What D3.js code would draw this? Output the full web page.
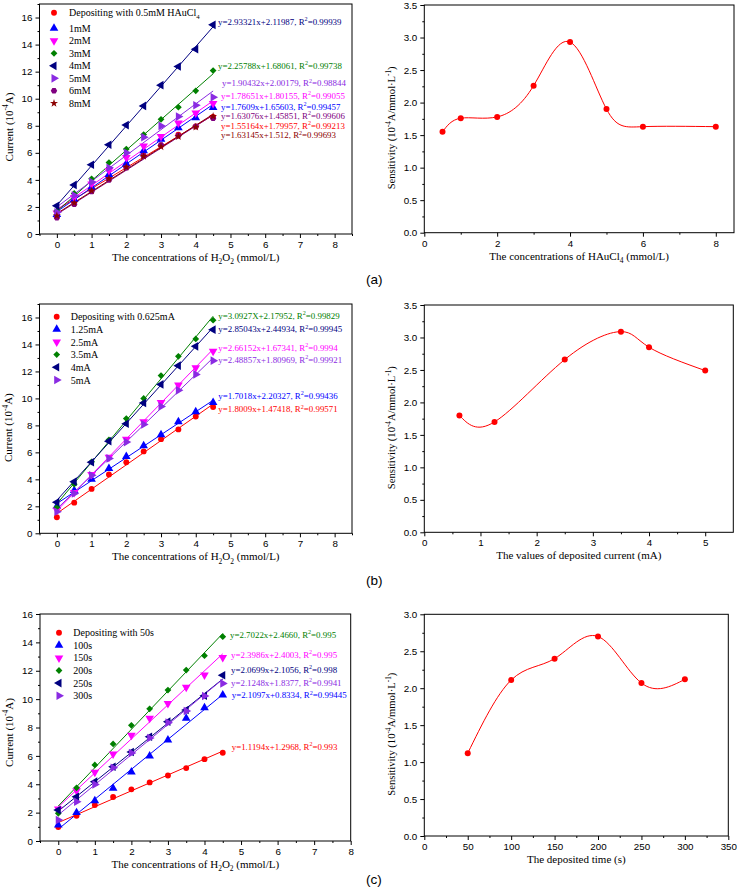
<!DOCTYPE html>
<html><head><meta charset="utf-8">
<script src="https://cdn.jsdelivr.net/npm/d3@7"></script>
<style>body{margin:0;background:#fff}</style>
</head><body>
<svg id="c" width="737" height="891" xmlns="http://www.w3.org/2000/svg"></svg>
<script>
// ================= DATA =================
const h2o2 = [0, 0.5, 1, 1.5, 2, 2.5, 3, 3.5, 4, 4.5];
const h2o2Ticks = [0, 1, 2, 3, 4, 5, 6, 7, 8];
const currentTicksAB = [0, 2, 4, 6, 8, 10, 12, 14, 16];
const currentTicksC = [0, 2, 4, 6, 8, 10, 12, 14, 16];

// (a) deposition with different HAuCl4 concentrations
const aNames = ["Depositing with 0.5mM HAuCl_{4}", "1mM", "2mM", "3mM", "4mM", "5mM", "6mM", "8mM"];
const a05mM = [1.30, 2.35, 3.30, 4.15, 5.00, 5.80, 6.55, 7.35, 7.95, 8.65];
const a1mM  = [1.45, 2.55, 3.45, 4.40, 5.20, 6.15, 7.00, 7.85, 8.60, 9.35];
const a2mM  = [1.55, 2.70, 3.70, 4.70, 5.65, 6.50, 7.20, 8.20, 8.95, 9.65];
const a3mM  = [1.70, 3.00, 4.08, 5.28, 6.28, 7.35, 8.48, 9.37, 10.58, 12.08];
const a4mM  = [2.08, 3.63, 5.12, 6.60, 8.05, 9.47, 11.00, 12.38, 13.66, 15.46];
const a5mM  = [1.60, 2.85, 3.85, 4.90, 6.00, 7.15, 7.99, 8.68, 9.52, 10.11];
const a6mM  = [1.20, 2.20, 3.15, 4.00, 4.90, 5.75, 6.58, 7.27, 7.94, 8.56];
const a8mM  = [1.35, 2.30, 3.20, 4.10, 4.95, 5.75, 6.45, 7.20, 7.90, 8.70];
const aSlopes = [1.55164, 1.7609, 1.78651, 2.25788, 2.93321, 1.90432, 1.63076, 1.63145];
const aIntercepts = [1.79957, 1.65603, 1.80155, 1.68061, 2.11987, 2.00179, 1.45851, 1.512];
const aEquations = [
  "y=1.55164x+1.79957, R^{2}=0.99213",
  "y=1.7609x+1.65603, R^{2}=0.99457",
  "y=1.78651x+1.80155, R^{2}=0.99055",
  "y=2.25788x+1.68061, R^{2}=0.99738",
  "y=2.93321x+2.11987, R^{2}=0.99939",
  "y=1.90432x+2.00179, R^{2}=0.98844",
  "y=1.63076x+1.45851, R^{2}=0.99606",
  "y=1.63145x+1.512, R^{2}=0.99693"
];
const aHAuCl4 = [0.5, 1, 2, 3, 4, 5, 6, 8];
const aSensitivity = [1.55, 1.76, 1.78, 2.26, 2.93, 1.90, 1.63, 1.63];
const aSensXTicks = [0, 2, 4, 6, 8];
const sensTicks35 = [0, 0.5, 1, 1.5, 2, 2.5, 3, 3.5];

// (b) deposition with different currents
const bNames = ["Depositing with 0.625mA", "1.25mA", "2.5mA", "3.5mA", "4mA", "5mA"];
const b0625mA = [1.19, 2.27, 3.29, 4.36, 5.27, 6.07, 6.98, 7.70, 8.66, 9.36];
const b125mA  = [2.00, 3.17, 4.01, 4.80, 5.70, 6.49, 7.30, 8.27, 9.01, 9.70];
const b25mA   = [1.73, 3.02, 4.36, 5.64, 6.98, 8.27, 9.70, 11.00, 12.28, 13.50];
const b35mA   = [1.93, 3.64, 5.30, 6.93, 8.51, 10.00, 11.69, 13.12, 14.41, 15.80];
const b4mA    = [2.30, 3.83, 5.27, 6.83, 8.12, 9.66, 11.04, 12.43, 13.86, 15.10];
const b5mA    = [1.60, 2.95, 4.30, 5.55, 6.76, 8.07, 9.41, 10.60, 11.78, 12.80];
const bSlopes = [1.8009, 1.7018, 2.66152, 3.0927, 2.85043, 2.48857];
const bIntercepts = [1.47418, 2.20327, 1.67341, 2.17952, 2.44934, 1.80969];
const bEquations = [
  "y=1.8009x+1.47418, R^{2}=0.99571",
  "y=1.7018x+2.20327, R^{2}=0.99436",
  "y=2.66152x+1.67341, R^{2}=0.9994",
  "y=3.0927X+2.17952, R^{2}=0.99829",
  "y=2.85043x+2.44934, R^{2}=0.99945",
  "y=2.48857x+1.80969, R^{2}=0.99921"
];
const bCurrent = [0.625, 1.25, 2.5, 3.5, 4, 5];
const bSensitivity = [1.80, 1.70, 2.66, 3.09, 2.85, 2.49];
const bSensXTicks = [0, 1, 2, 3, 4, 5];

// (c) deposition with different times
const cNames = ["Depositing with 50s", "100s", "150s", "200s", "250s", "300s"];
const c50s  = [0.98, 1.78, 2.54, 3.10, 3.64, 4.13, 4.62, 5.14, 5.77, 6.22];
const c100s = [1.13, 2.00, 2.84, 3.71, 4.86, 5.99, 7.12, 8.65, 9.40, 10.29];
const c150s = [2.25, 3.54, 4.84, 6.13, 7.45, 8.65, 9.70, 10.83, 11.70, 12.94];
const c200s = [1.95, 3.75, 5.36, 6.84, 8.15, 9.32, 10.64, 12.05, 13.06, 14.40];
const c250s = [2.18, 3.12, 4.18, 5.23, 6.27, 7.35, 8.41, 9.23, 10.24, 11.68];
const c300s = [1.48, 2.77, 3.99, 5.16, 6.20, 7.26, 8.34, 9.16, 10.22, 11.11];
const cSlopes = [1.1194, 2.1097, 2.3986, 2.7022, 2.0699, 2.1248];
const cIntercepts = [1.2968, 0.8334, 2.4003, 2.4660, 2.1056, 1.8377];
const cEquations = [
  "y=1.1194x+1.2968, R^{2}=0.993",
  "y=2.1097x+0.8334, R^{2}=0.99445",
  "y=2.3986x+2.4003, R^{2}=0.995",
  "y=2.7022x+2.4660, R^{2}=0.995",
  "y=2.0699x+2.1056, R^{2}=0.998",
  "y=2.1248x+1.8377, R^{2}=0.9941"
];
const cTime = [50, 100, 150, 200, 250, 300];
const cSensitivity = [1.12, 2.11, 2.40, 2.70, 2.07, 2.12];
const cSensXTicks = [0, 50, 100, 150, 200, 250, 300, 350];
const sensTicks30 = [0, 0.5, 1, 1.5, 2, 2.5, 3];

// ================= STYLE =================
const RED = "#ff0000", BLUE = "#0000ff", MAG = "#ff00ff", GREEN = "#008000",
      NAVY = "#000080", VIOLET = "#8a2be2", PURPLE = "#800080", DRED = "#8b0000";
const SERIF = "'Liberation Serif','Times New Roman',serif";
const SANS = "'Liberation Sans',Arial,sans-serif";
const LEG_FS = 10, EQ_FS = 8.9, TITLE_FS = 11, TICK_FS = 9.8;

const svg = d3.select("#c");

// rich text: _{sub} and ^{sup}
function rich(g, str, x, y, size, opts = {}) {
  const t = g.append("text").attr("x", x).attr("y", y)
    .attr("font-family", opts.family || SERIF).attr("font-size", size)
    .attr("fill", opts.fill || "#000")
    .attr("text-anchor", opts.anchor || "start");
  if (opts.transform) t.attr("transform", opts.transform);
  const parts = str.split(/(_\{[^}]*\}|\^\{[^}]*\})/).filter(s => s.length);
  let shift = 0;
  parts.forEach(p => {
    let txt = p, target = 0, fs = size;
    if (p.startsWith("_{")) { txt = p.slice(2, -1); target = size * 0.3; fs = size * 0.68; }
    else if (p.startsWith("^{")) { txt = p.slice(2, -1); target = -size * 0.4; fs = size * 0.68; }
    t.append("tspan").attr("dy", target - shift).attr("font-size", fs).text(txt);
    shift = target;
  });
  return t;
}

const hexType = {
  draw(ctx, size) {
    const r = Math.sqrt(size / (1.5 * Math.sqrt(3)));
    for (let i = 0; i < 6; i++) {
      const a = Math.PI / 3 * i;
      const px = r * Math.cos(a), py = r * Math.sin(a);
      if (i === 0) ctx.moveTo(px, py); else ctx.lineTo(px, py);
    }
    ctx.closePath();
  }
};
function drawSymbol(g, shape, cx, cy, color, size = 27) {
  let type = d3.symbolCircle, rot = 0, s = size;
  if (shape === "up") { type = d3.symbolTriangle; s = size * 1.2; }
  if (shape === "down") { type = d3.symbolTriangle; rot = 180; s = size * 1.2; }
  if (shape === "left") { type = d3.symbolTriangle; rot = -90; s = size * 1.2; }
  if (shape === "right") { type = d3.symbolTriangle; rot = 90; s = size * 1.2; }
  if (shape === "diamond") { type = d3.symbolSquare; rot = 45; s = size * 0.85; }
  if (shape === "hex") { type = hexType; }
  if (shape === "star") { type = d3.symbolStar; s = size * 0.75; }
  g.append("path").attr("d", d3.symbol(type, s)())
    .attr("transform", `translate(${cx},${cy}) rotate(${rot})`)
    .attr("fill", color).attr("stroke", "none");
}

function axes(g, x, y, box, xt, xminor, yt, yminor, xfmt, yfmt) {
  g.append("g").attr("transform", `translate(0,${box.y1})`)
    .call(d3.axisBottom(x).tickValues(xt).tickSize(4).tickPadding(3).tickSizeOuter(0).tickFormat(xfmt));
  g.append("g").attr("transform", `translate(0,${box.y1})`)
    .call(d3.axisBottom(x).tickValues(xminor).tickSize(2).tickFormat("").tickSizeOuter(0));
  g.append("g").attr("transform", `translate(${box.x0},0)`)
    .call(d3.axisLeft(y).tickValues(yt).tickSize(4).tickPadding(3).tickSizeOuter(0).tickFormat(yfmt));
  g.append("g").attr("transform", `translate(${box.x0},0)`)
    .call(d3.axisLeft(y).tickValues(yminor).tickSize(2).tickFormat("").tickSizeOuter(0));
  g.selectAll(".domain").remove();
  g.selectAll(".tick line").attr("stroke", "#000");
  g.selectAll(".tick text").attr("font-family", SANS).attr("font-size", TICK_FS).attr("fill", "#000");
  g.append("rect").attr("x", box.x0).attr("y", box.y0)
    .attr("width", box.x1 - box.x0).attr("height", box.y1 - box.y0)
    .attr("fill", "none").attr("stroke", "#000").attr("stroke-width", 1);
}

function currentPanel(cfg) {
  const g = svg.append("g");
  const box = cfg.box;
  const x = d3.scaleLinear().domain(cfg.xDomain).range([box.x0, box.x1]);
  const y = d3.scaleLinear().domain(cfg.yDomain).range([box.y1, box.y0]);
  const xminor = d3.range(-0.5, cfg.xDomain[1] + 0.001, 0.5).filter(v => !cfg.xTicks.includes(v));
  const yminor = d3.range(1, cfg.yDomain[1] + 0.001, 2);
  axes(g, x, y, box, cfg.xTicks, xminor, cfg.yTicks, yminor, d3.format("d"), d3.format("d"));

  const line = d3.line().x(d => x(d[0])).y(d => y(d[1]));
  const xFit = [h2o2[0], h2o2[h2o2.length - 1]];
  cfg.values.forEach((vals, i) => {
    g.append("path").attr("d", line(xFit.map(v => [v, cfg.slopes[i] * v + cfg.intercepts[i]])))
      .attr("fill", "none").attr("stroke", cfg.colors[i]).attr("stroke-width", 1);
  });
  cfg.values.forEach((vals, i) => {
    vals.forEach((v, j) => drawSymbol(g, cfg.shapes[i], x(h2o2[j]), y(v), cfg.colors[i]));
  });
  // legend
  cfg.names.forEach((n, i) => {
    const cy = cfg.leg.y[i];
    drawSymbol(g, cfg.shapes[i], cfg.leg.sx, cy, cfg.colors[i]);
    rich(g, n, cfg.leg.tx, cy + 3.5, LEG_FS);
  });
  // equations
  cfg.equations.forEach((e, i) => {
    rich(g, e, cfg.eq.x[i], cfg.eq.y[i] + 3, EQ_FS, { fill: cfg.colors[i] });
  });
  // titles
  rich(g, "The concentrations of H_{2}O_{2} (mmol/L)", (box.x0 + box.x1) / 2, box.y1 + 27, TITLE_FS, { anchor: "middle" });
  const cy = (box.y0 + box.y1) / 2 + cfg.ytOff;
  rich(g, "Current (10^{-4}A)", 12.5, cy, TITLE_FS, { anchor: "middle", transform: `rotate(-90,12.5,${cy})` });
}

function sensPanel(cfg) {
  const g = svg.append("g");
  const box = cfg.box;
  const x = d3.scaleLinear().domain(cfg.xDomain).range([box.x0, box.x1]);
  const y = d3.scaleLinear().domain(cfg.yDomain).range([box.y1, box.y0]);
  axes(g, x, y, box, cfg.xTicks, cfg.xMinor, cfg.yTicks, cfg.yMinor, d3.format("d"), d3.format(".1f"));
  const pts = cfg.xs.map((v, i) => [v, cfg.ys[i]]);
  g.append("path").attr("d", d3.line().curve(d3.curveNatural).x(d => x(d[0])).y(d => y(d[1]))(pts))
    .attr("fill", "none").attr("stroke", RED).attr("stroke-width", 1);
  pts.forEach(p => g.append("circle").attr("cx", x(p[0])).attr("cy", y(p[1])).attr("r", 3).attr("fill", RED));
  rich(g, cfg.xTitle, (box.x0 + box.x1) / 2, box.y1 + 27, TITLE_FS, { anchor: "middle" });
  const cy = (box.y0 + box.y1) / 2 + 9;
  rich(g, "Sensitivity (10^{-4}A/mmol·L^{-1})", 395, cy, 10.6, { anchor: "middle", transform: `rotate(-90,395,${cy})` });
  g.append("text").attr("x", 366).attr("y", cfg.tagY).attr("font-family", SANS)
    .attr("font-size", 13.5).text(cfg.tag);
}

// ---------- (a) ----------
currentPanel({
  box: { x0: 39.5, x1: 352, y0: 4, y1: 234 }, xDomain: [-0.5, 8.5], yDomain: [0, 17],
  xTicks: h2o2Ticks, yTicks: currentTicksAB,
  names: aNames, values: [a05mM, a1mM, a2mM, a3mM, a4mM, a5mM, a6mM, a8mM],
  slopes: aSlopes, intercepts: aIntercepts, equations: aEquations,
  colors: [RED, BLUE, MAG, GREEN, NAVY, VIOLET, PURPLE, DRED],
  shapes: ["circle", "up", "down", "diamond", "left", "right", "hex", "star"],
  leg: { sx: 54, tx: 69, y: [12.7, 28.3, 40.8, 53.3, 65.8, 78.3, 90.8, 103.3] },
  eq: { x: [221, 221, 221, 218, 218, 222, 221, 221], y: [126, 106.7, 95.7, 65.7, 21.7, 83.3, 116, 135.3] },
  ytOff: 8
});
sensPanel({
  box: { x0: 424.3, x1: 734, y0: 5, y1: 232.7 }, xDomain: [0, 8.5], yDomain: [0, 3.5],
  xTicks: aSensXTicks, xMinor: [1, 3, 5, 7], yTicks: sensTicks35, yMinor: d3.range(0.25, 3.5, 0.5),
  xs: aHAuCl4, ys: aSensitivity, xTitle: "The concentrations of HAuCl_{4} (mmol/L)",
  tag: "(a)", tagY: 284
});

// ---------- (b) ----------
currentPanel({
  box: { x0: 39.5, x1: 352, y0: 304, y1: 533.3 }, xDomain: [-0.5, 8.5], yDomain: [0, 17],
  xTicks: h2o2Ticks, yTicks: currentTicksAB,
  names: bNames, values: [b0625mA, b125mA, b25mA, b35mA, b4mA, b5mA],
  slopes: bSlopes, intercepts: bIntercepts, equations: bEquations,
  colors: [RED, BLUE, MAG, GREEN, NAVY, VIOLET],
  shapes: ["circle", "up", "down", "diamond", "left", "right"],
  leg: { sx: 56.7, tx: 70.7, y: [316.7, 329.3, 342, 354.6, 367.3, 380] },
  eq: { x: [218.3, 218.3, 218.3, 218.3, 218.3, 218.3], y: [409.3, 395.7, 347.7, 315.7, 329.3, 360] },
  ytOff: 9
});
sensPanel({
  box: { x0: 424.3, x1: 733.3, y0: 305, y1: 532.3 }, xDomain: [0, 5.5], yDomain: [0, 3.5],
  xTicks: bSensXTicks, xMinor: [0.5, 1.5, 2.5, 3.5, 4.5], yTicks: sensTicks35, yMinor: d3.range(0.25, 3.5, 0.5),
  xs: bCurrent, ys: bSensitivity, xTitle: "The values of deposited current (mA)",
  tag: "(b)", tagY: 585
});

// ---------- (c) ----------
currentPanel({
  box: { x0: 40, x1: 350.7, y0: 614, y1: 841 }, xDomain: [-0.5, 8], yDomain: [0, 16],
  xTicks: h2o2Ticks, yTicks: currentTicksC,
  names: cNames, values: [c50s, c100s, c150s, c200s, c250s, c300s],
  slopes: cSlopes, intercepts: cIntercepts, equations: cEquations,
  colors: [RED, BLUE, MAG, GREEN, NAVY, VIOLET],
  shapes: ["circle", "up", "down", "diamond", "left", "right"],
  leg: { sx: 59, tx: 73.3, y: [632.7, 645.3, 657.9, 670.5, 683.1, 695.7] },
  eq: { x: [231.7, 231.7, 231, 230, 231, 231], y: [746.7, 695.3, 655, 635, 670, 682.7] },
  ytOff: 5
});
sensPanel({
  box: { x0: 424.3, x1: 728.3, y0: 614.3, y1: 836 }, xDomain: [0, 350], yDomain: [0, 3],
  xTicks: cSensXTicks, xMinor: d3.range(25, 350, 50), yTicks: sensTicks30, yMinor: d3.range(0.25, 3, 0.5),
  xs: cTime, ys: cSensitivity, xTitle: "The deposited time (s)",
  tag: "(c)", tagY: 884
});
</script>
</body></html>
